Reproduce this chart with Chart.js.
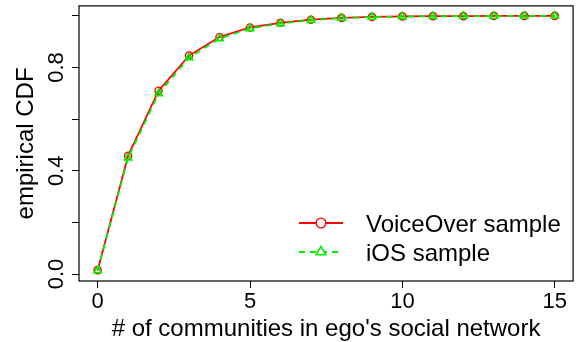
<!DOCTYPE html>
<html>
<head>
<meta charset="utf-8">
<script src="https://cdn.jsdelivr.net/npm/chart.js@4"></script>
<style>
  body { margin: 0; background: #fff; }
  canvas { display: block; }
</style>
</head>
<body>
<canvas id="cdf" width="579" height="342"></canvas>
<script>
// data
const communities = [0, 1, 2, 3, 4, 5, 6, 7, 8, 9, 10, 11, 12, 13, 14, 15];
const voiceOverCdf = [0.015, 0.458, 0.71, 0.846, 0.918, 0.955, 0.973, 0.985, 0.992, 0.996, 0.998, 0.999, 0.999, 1.0, 1.0, 1.0];
const iosCdf = [0.013, 0.45, 0.699, 0.838, 0.912, 0.951, 0.970, 0.983, 0.991, 0.995, 0.997, 0.998, 0.999, 0.999, 1.0, 1.0];
const xTicks = [0, 5, 10, 15];
const yTicks = [0, 0.2, 0.4, 0.6, 0.8, 1.0];
const yTickLabels = ["0.0", "", "0.4", "", "0.8", ""];
const seriesNames = ["VoiceOver sample", "iOS sample"];

const FONT = '"Liberation Sans", Arial, Helvetica, sans-serif';

/* ---- R-style decorations: box, tick labels, titles, legend ---- */
const rStyle = {
    id: "rStyle",
    afterDraw(chart) {
        const ctx = chart.ctx;
        const a = chart.chartArea;
        const xs = chart.scales.x, ys = chart.scales.y;

        ctx.save();
        ctx.strokeStyle = "#000";
        ctx.lineWidth = 1.2;
        ctx.strokeRect(a.left, a.top, a.right - a.left, a.bottom - a.top);

        ctx.fillStyle = "#000";
        ctx.font = "22px " + FONT;

        // x tick labels
        ctx.textAlign = "center";
        ctx.textBaseline = "alphabetic";
        xTicks.forEach(v => ctx.fillText(String(v), xs.getPixelForValue(v), 308));

        // y tick labels, rotated
        yTicks.forEach((v, i) => {
            if (!yTickLabels[i]) return;
            ctx.save();
            ctx.translate(63, ys.getPixelForValue(v));
            ctx.rotate(-Math.PI / 2);
            ctx.fillText(yTickLabels[i], 0, 0);
            ctx.restore();
        });

        // axis titles
        ctx.font = "24px " + FONT;
        ctx.fillText("# of communities in ego's social network", (a.left + a.right) / 2, 336);
        ctx.save();
        ctx.translate(33, (a.top + a.bottom) / 2);
        ctx.rotate(-Math.PI / 2);
        ctx.fillText("empirical CDF", 0, 0);
        ctx.restore();

        // legend
        const rows = [223, 252];
        chart.data.datasets.forEach((ds, i) => {
            const y = rows[i];
            ctx.save();
            ctx.strokeStyle = ds.borderColor;
            ctx.lineWidth = ds.borderWidth;
            ctx.setLineDash(ds.borderDash || []);
            ctx.beginPath();
            ctx.moveTo(299, y);
            ctx.lineTo(343, y);
            ctx.stroke();
            ctx.setLineDash([]);
            ctx.lineWidth = ds.pointBorderWidth;
            ctx.fillStyle = "#fff";
            Chart.helpers.drawPoint(ctx, {
                pointStyle: ds.pointStyle,
                radius: ds.pointRadius + 1.3,
                borderWidth: ds.pointBorderWidth,
                rotation: 0
            }, 321, y);
            ctx.restore();
            ctx.textAlign = "left";
            ctx.fillText(seriesNames[i], 366, y + 8.5);
        });
        ctx.restore();
    }
};

new Chart(document.getElementById("cdf"), {
    type: "line",
    data: {
        datasets: [
            {
                label: seriesNames[0],
                data: communities.map((c, i) => ({ x: c, y: voiceOverCdf[i] })),
                borderColor: "#ff0000",
                borderWidth: 1.8,
                pointStyle: "circle",
                pointRadius: 3.6,
                pointBorderWidth: 1.4,
                pointBorderColor: "#ff0000",
                pointBackgroundColor: "rgba(0,0,0,0)",
                tension: 0,
                order: 1
            },
            {
                label: seriesNames[1],
                data: communities.map((c, i) => ({ x: c, y: iosCdf[i] })),
                borderColor: "#00f000",
                borderWidth: 1.8,
                borderDash: [6, 5],
                pointStyle: "triangle",
                pointRadius: 4.3,
                pointBorderWidth: 1.6,
                pointBorderColor: "#00f000",
                pointBackgroundColor: "rgba(0,0,0,0)",
                tension: 0,
                order: 0
            }
        ]
    },
    options: {
        responsive: false,
        animation: false,
        layout: { padding: { top: 4, right: 4, left: 0, bottom: 0 } },
        plugins: { legend: { display: false }, tooltip: { enabled: false } },
        scales: {
            x: {
                type: "linear",
                min: -0.611,
                max: 15.6,
                afterBuildTicks: s => { s.ticks = xTicks.map(v => ({ value: v })); },
                afterFit: s => { s.height = 61; },
                grid: { drawOnChartArea: false, drawTicks: true, tickLength: 7, color: "#000" },
                border: { display: false },
                ticks: { display: false }
            },
            y: {
                min: -0.027,
                max: 1.0385,
                afterBuildTicks: s => { s.ticks = yTicks.map(v => ({ value: v })); },
                afterFit: s => { s.width = 79; },
                grid: { drawOnChartArea: false, drawTicks: true, tickLength: 7, color: "#000" },
                border: { display: false },
                ticks: { display: false }
            }
        }
    },
    plugins: [rStyle]
});
</script>
</body>
</html>
